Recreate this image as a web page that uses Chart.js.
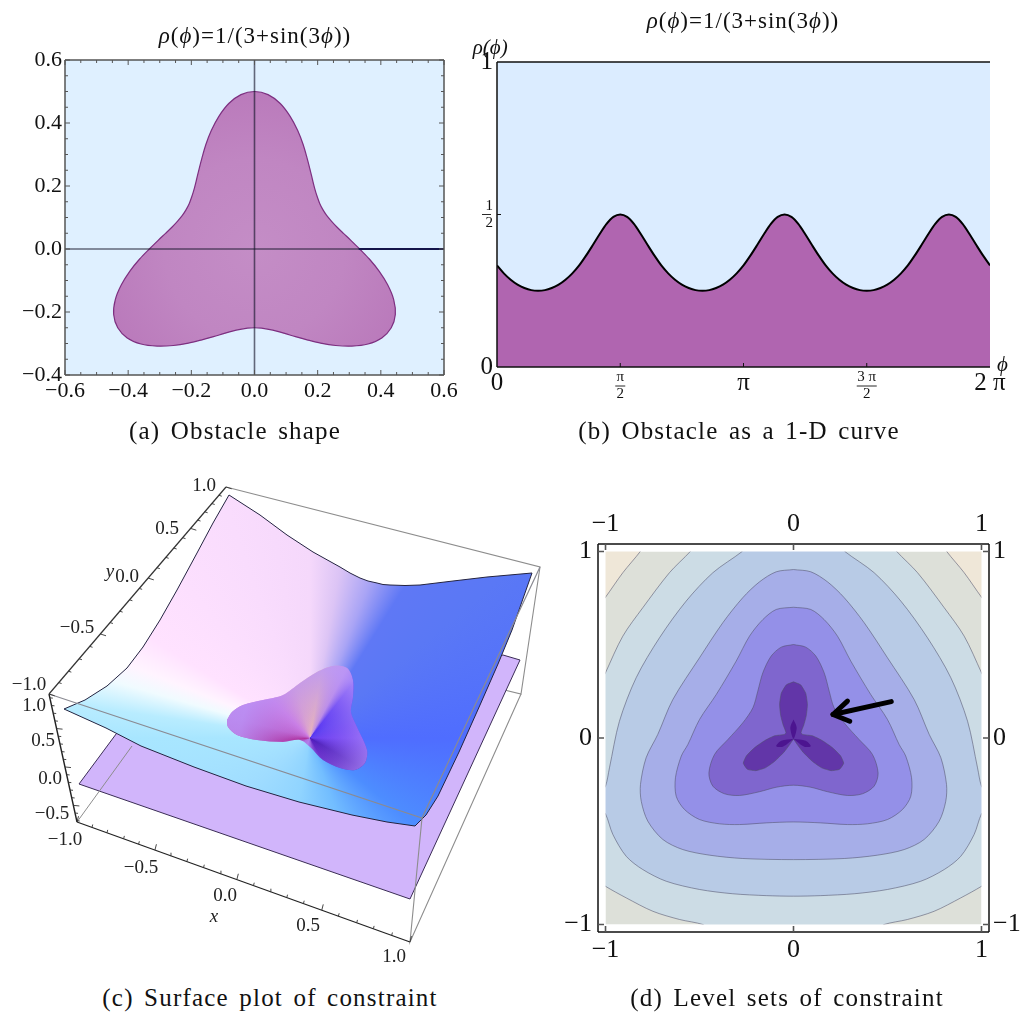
<!DOCTYPE html>
<html><head><meta charset="utf-8">
<script src="https://cdn.jsdelivr.net/npm/chart.js@4/dist/chart.umd.js"></script>
<style>
html,body{margin:0;padding:0;background:#fff;width:1021px;height:1014px;overflow:hidden}
canvas{position:absolute}
.t{position:absolute;white-space:nowrap;transform:translate(-50%,-50%);font-family:"Liberation Serif",serif;color:#111}
.title{font-size:23px;letter-spacing:1px}
.cap{font-size:25px;letter-spacing:1.2px;word-spacing:3px}
</style></head><body>
<canvas id="a" width="470" height="450" style="left:0px;top:0px"></canvas>
<canvas id="b" width="561" height="450" style="left:460px;top:0px"></canvas>
<canvas id="c" width="550" height="510" style="left:0px;top:470px"></canvas>
<canvas id="d" width="481" height="480" style="left:540px;top:500px"></canvas>
<div class="t title" style="left:255px;top:36px"><i>ρ</i>(<i>ϕ</i>)=1/(3+sin(3<i>ϕ</i>))</div>
<div class="t title" style="left:743px;top:21px"><i>ρ</i>(<i>ϕ</i>)=1/(3+sin(3<i>ϕ</i>))</div>
<div class="t cap" style="left:235px;top:431px">(a) Obstacle shape</div>
<div class="t cap" style="left:739px;top:431px">(b) Obstacle as a 1-D curve</div>
<div class="t cap" style="left:270px;top:998px">(c) Surface plot of constraint</div>
<div class="t cap" style="left:787px;top:998px">(d) Level sets of constraint</div>
<script>
// ---------- obstacle curve (panels a, b) ----------
const phiDeg=[0,5,10,15,20,25,30,35,40,45,50,55,60,65,70,75,80,85,90,95,100,105,110,115,120,125,130,135,140,145,150,155,160,165,170,175,180,185,190,195,200,205,210,215,220,225,230,235,240,245,250,255,260,265,270,275,280,285,290,295,300,305,310,315,320,325,330,335,340,345,350,355,360];
const rhoVals=[.333,.307,.286,.270,.259,.252,.25,.252,.259,.270,.286,.307,.333,.365,.4,.436,.469,.492,.5,.492,.469,.436,.4,.365,.333,.307,.286,.270,.259,.252,.25,.252,.259,.270,.286,.307,.333,.365,.4,.436,.469,.492,.5,.492,.469,.436,.4,.365,.333,.307,.286,.270,.259,.252,.25,.252,.259,.270,.286,.307,.333,.365,.4,.436,.469,.492,.5,.492,.469,.436,.4,.365,.333];
// panel a axes
const aXTicks=[-.6,-.4,-.2,0,.2,.4,.6];
const aYTicks=[-.4,-.2,0,.2,.4,.6];
const aXMinor=[-.55,-.5,-.45,-.35,-.3,-.25,-.15,-.1,-.05,.05,.1,.15,.25,.3,.35,.45,.5,.55];
const aYMinor=[-.35,-.3,-.25,-.15,-.1,-.05,.05,.1,.15,.25,.3,.35,.45,.5,.55];
const aShadeRadii=[0,90,170];
const aShadeCols=['#c48dc6','#c086c2','#b978ba'];
// panel b axes
const bXTicks=[0,90,180,270,360];
const bXLabels=['0',['π','2'],'π',['3 π','2'],'2 π'];
const bYTicks=[0,.5,1];
const bYLabels=['0',['1','2'],'1'];
// panel d axes
const dTicks=[-1,0,1];
// panel d level sets: left half of each contour, mirrored about x=0; parts beyond +-1 lie under the white margin
const c2X=[0,-.53,-.549,-.660,-.802,-.908,-1,-1.03,-1.03,-1,-.890,-.748,-.606,-.482,-.44,0];
const c2Y=[1.03,1.03,1,.886,.698,.546,.350,.28,-.77,-.795,-.857,-.929,-.973,-1,-1.03,-1.03];
const c3X=[0,-.25,-.273,-.429,-.571,-.713,-.837,-.926,-.979,-1,-1.03,-1.03,-1,-.961,-.890,-.802,-.677,-.5,-.323,-.145,0];
const c3Y=[1.03,1.03,1,.886,.734,.537,.323,.090,-.160,-.258,-.30,-.38,-.407,-.517,-.634,-.705,-.768,-.812,-.835,-.845,-.848];
const c4X=[0,-.092,-.181,-.270,-.376,-.5,-.642,-.722,-.784,-.814,-.810,-.775,-.695,-.589,-.447,-.270,0];
const c4Y=[.903,.891,.837,.752,.618,.430,.206,.019,-.106,-.249,-.339,-.446,-.544,-.598,-.628,-.646,-.652];
const c5X=[0,-.092,-.163,-.234,-.305,-.411,-.5,-.562,-.597,-.628,-.624,-.580,-.5,-.394,-.287,-.145,0];
const c5Y=[.701,.689,.635,.546,.412,.233,.099,-.035,-.097,-.213,-.312,-.383,-.437,-.460,-.464,-.455,-.450];
const c6X=[0,-.065,-.119,-.163,-.190,-.216,-.270,-.349,-.420,-.450,-.429,-.367,-.287,-.181,-.092,0];
const c6Y=[.501,.487,.439,.350,.251,.162,.081,-.008,-.088,-.187,-.258,-.299,-.308,-.288,-.264,-.253];
const c7X=[0,-.038,-.065,-.074,-.068,-.055,-.040,-.048,-.10,-.15,-.205,-.25,-.267,-.245,-.2,-.15,-.10,-.05,-.02,0];
const c7Y=[.301,.285,.24,.18,.12,.07,.03,.019,.012,-.012,-.05,-.095,-.135,-.168,-.175,-.16,-.125,-.075,-.035,-.008];
const c8TopX=[0,-.017,0,.017,0];
const c8TopY=[.099,.055,-.004,.055,.099];
const c8LeftX=[0,-.065,-.092,-.057,-.021,0];
const c8LeftY=[-.004,-.015,-.044,-.047,-.022,-.004];
const cornerX=[-1.03,-.80,-.815,-.908,-1,-1.03,-1.03];
const cornerY=[1.03,1.03,1,.886,.755,.72,1.03];
const dColors=['#dde0d9','#efe7d8','#ccdce5','#b8cbe6','#a6aee8','#9490e8','#7f66ce','#6236a8','#4c1590'];
const arrowX=[.52,.210], arrowY=[.195,.126];
const arrowHeadX=[.287,.210,.299], arrowHeadY=[.198,.126,.090];
// panel c: outlines, in view coordinates
const surfX=[229,260,287,313,340,350,360,368,377,383,390,405,420,453,487,532,512,498,480,459,438,426,415,387,352,299,246,194,141,106,64,85,107,127,143,160,177,197,213,229];
const surfY=[495,515,535,552,567,573,578,581,583,584.5,585,585.5,585,581,577,573,630,664,705,752,796,815,826,822,815,802,786,767,746,728,709,700,686,668,647,620,590,553,523,495];
const planeX=[79,125,503,520,410,79];
const planeY=[784,722,655,660,899,784];
const lobeX=[227,232,243,263,283,300,317,333,347,353,353,351,357,367,365,355,340,323,310,300,283,257,237,228,227];
const lobeY=[720,712,705,700,695,683,672,666,668,680,697,712,727,750,763,770,768,760,747,740,742,740,735,727,720];
const lobeCenter=[310,738];
const surfDeg=[0,40,70,100,140,165,180,188,196,202,212,250,270,280,291,302,320,360];
const surfCol=['#4f6dff','#4d8dff','#72bdff','#90d4ff','#9fdcff','#a5e2ff','#a8e6ff','#b8ecff','#f0fbff','#fff4ff','#ffe2ff','#f9dcfd','#f5d8fb','#dcc4f5','#a9a4f5','#5f78f5','#5a78f5','#4f6dff'];
const lobeDeg=[0,30,60,85,110,150,175,195,225,255,280,298,308,330,360];
const lobeCol=['#6a3df0','#4a1cb8','#5a20c0','#9a60e0','#b080e8','#b070e0','#b02e98','#c060c8','#cf7ee0','#e0a8c8','#eab8b8','#c090e0','#5030f0','#5a3cf0','#6a3df0'];
const lobeRadii=[0,35,70];
const lobeVeil=['rgba(170,120,255,0)','rgba(180,140,250,.35)','rgba(185,150,250,.8)'];
const boxBackX=[226,540,521,484], boxBackY=[487,567,694,685];
const boxLowX=[132,77], boxLowY=[746,822];
const boxFrontX=[49,422,540], boxFrontY=[694,818,567];
const boxVertX=[422,410,521], boxVertY=[818,942,694];
const axisYX=[49,226], axisYY=[694,487];
const axisZX=[49,77], axisZY=[694,822];
const axisXX=[77,410], axisXY=[822,942];
const yTickFrac=[0,.055,.11,.17,.23,.29,.345,.40,.455,.51,.56,.61,.66,.705,.755,.80,.84,.88,.92,.96,1];
const xTickFrac=[0,.045,.09,.14,.185,.234,.28,.33,.38,.43,.48,.53,.58,.63,.68,.735,.785,.84,.89,.945,1];
const zTickFrac=[.03,.09,.15,.21,.27,.33,.39,.45,.51,.57,.63,.69,.75,.81,.87,.93,.99];
const cTickText=['1.0','0.5','0.0','−0.5','−1.0','1.0','0.5','0.0','−0.5','−1.0','−0.5','0.0','0.5','1.0'];
const cTickX=[204,167,127,77,29,34,43,50,52,65,141,225,308,394];
const cTickY=[486,529,577,628,685,706,741,779,814,840,868,896,926,957];
const cAxisText=['x','y'];
const cAxisX=[214,110];
const cAxisY=[917,572];

// ---------- helpers ----------
const SERIF='"Liberation Serif",serif';
const zip=(xs,ys)=>xs.map((x,i)=>({x,y:ys[i]}));
const mirror=(xs,ys)=>{const p=zip(xs,ys);const m=p.filter(q=>q.x!==0).reverse().map(q=>({x:-q.x,y:q.y}));const o=p.concat(m);o.push(p[0]);return o;};
const poly=(data,fillc,o={})=>Object.assign({data,backgroundColor:fillc,fill:'shape',borderColor:'transparent',borderWidth:0,pointRadius:0,tension:0,clip:false},o);
const line=(data,col,w,o={})=>Object.assign({data,borderColor:col,borderWidth:w,fill:false,pointRadius:0,tension:0,spanGaps:false},o);
const ordered=ds=>ds.map((d,i)=>Object.assign(d,{order:-i}));
const okPx=(ch,cx,cy)=>{if(!ch.scales||!ch.scales.x||!ch.scales.y)return null;
  const px=ch.scales.x.getPixelForValue(cx),py=ch.scales.y.getPixelForValue(cy);
  return Number.isFinite(px)&&Number.isFinite(py)?[px,py]:null;};
function conic(cx,cy,degs,cols){return ctx=>{const p=okPx(ctx.chart,cx,cy);if(!p)return '#88f';
  const g=ctx.chart.ctx.createConicGradient(0,p[0],p[1]);
  degs.forEach((d,i)=>g.addColorStop(d/360,cols[i]));return g;};}
function radial(cx,cy,rs,cols){return ctx=>{const p=okPx(ctx.chart,cx,cy);if(!p)return 'transparent';
  const g=ctx.chart.ctx.createRadialGradient(p[0],p[1],0,p[0],p[1],rs[rs.length-1]);
  rs.forEach((r,i)=>g.addColorStop(r/rs[rs.length-1],cols[i]));return g;};}
function frame(o){return{id:'frame',afterDatasetsDraw(ch){
  const c=ch.ctx,A=ch.chartArea;c.save();c.strokeStyle=o.color;c.lineWidth=o.width;c.beginPath();
  const sides=o.sides||['top','left','bottom','right'];
  if(sides.includes('top')){c.moveTo(A.left,A.top);c.lineTo(A.right,A.top);}
  if(sides.includes('bottom')){c.moveTo(A.left,A.bottom);c.lineTo(A.right,A.bottom);}
  if(sides.includes('left')){c.moveTo(A.left,A.top);c.lineTo(A.left,A.bottom);}
  if(sides.includes('right')){c.moveTo(A.right,A.top);c.lineTo(A.right,A.bottom);}
  c.stroke();c.lineWidth=o.tickWidth||1;c.strokeStyle=o.tickColor||o.color;c.beginPath();
  const X=ch.scales.x,Y=ch.scales.y;
  const mx=(vals,l)=>vals.forEach(v=>{const p=X.getPixelForValue(v);
    c.moveTo(p,A.bottom);c.lineTo(p,A.bottom-l);if(o.both){c.moveTo(p,A.top);c.lineTo(p,A.top+l);}});
  const my=(vals,l)=>vals.forEach(v=>{const p=Y.getPixelForValue(v);
    c.moveTo(A.left,p);c.lineTo(A.left+l,p);if(o.both){c.moveTo(A.right,p);c.lineTo(A.right-l,p);}});
  mx(o.xMajor,o.major);my(o.yMajor,o.major);mx(o.xMinor||[],o.minor);my(o.yMinor||[],o.minor);
  c.stroke();c.restore();}};}
function texts(items){return{id:'texts',afterDraw(ch){
  const c=ch.ctx;c.save();c.textAlign='center';c.textBaseline='middle';
  items.forEach(t=>{c.font=t.font;c.fillStyle=t.color||'#222';
    c.fillText(t.s,ch.scales.x.getPixelForValue(t.x),ch.scales.y.getPixelForValue(t.y));});c.restore();}};}
const base=(scales,padding)=>({responsive:false,animation:false,layout:{padding},
  plugins:{legend:{display:false},tooltip:{enabled:false},title:{display:false}},scales});
const axis=(o)=>Object.assign({type:'linear',grid:{display:false,drawTicks:false},border:{display:false}},o);

// ---------- panel a ----------
const shape=rhoVals.map((r,i)=>({x:r*Math.cos(phiDeg[i]*Math.PI/180),y:r*Math.sin(phiDeg[i]*Math.PI/180)}));
const fmt=v=>Number(v).toFixed(1).replace('-','−');
new Chart(document.getElementById('a'),{type:'line',data:{datasets:ordered([
  poly(zip([-.6,.6,.6,-.6,-.6],[.6,.6,-.4,-.4,.6]),'#dff0ff'),
  poly(shape,radial(0,0,aShadeRadii,aShadeCols),{borderColor:'#7d2f80',borderWidth:1.2,tension:.3}),
  line(zip([-.6,.6],[0,0]),'rgba(20,20,40,.62)',1.6),
  line(zip([0,0],[-.4,.6]),'rgba(20,20,40,.62)',1.6),
  line(zip([.33,.6],[0,0]),'#14144a',2),
])},options:base({
  x:axis({min:-.6,max:.6,afterBuildTicks:s=>{s.ticks=aXTicks.map(value=>({value}))},afterFit:s=>{s.height=75},
    ticks:{callback:fmt,autoSkip:false,maxRotation:0,padding:3,color:'#111',font:{family:SERIF,size:22}}}),
  y:axis({min:-.4,max:.6,afterBuildTicks:s=>{s.ticks=aYTicks.map(value=>({value}))},afterFit:s=>{s.width=65},
    ticks:{callback:fmt,autoSkip:false,padding:3,color:'#111',font:{family:SERIF,size:22}}})
},{top:60,right:26}),plugins:[frame({color:'#555',width:1.5,both:true,xMajor:aXTicks,yMajor:aYTicks,xMinor:aXMinor,yMinor:aYMinor,major:5,minor:3})]});

// ---------- panel b ----------
function fractionBars(){return{id:'fractionBars',afterDraw(ch){
  const c=ch.ctx;c.save();c.strokeStyle='#111';c.lineWidth=.9;c.beginPath();
  const X=ch.scales.x,Y=ch.scales.y,A=ch.chartArea;
  bXLabels.forEach((l,i)=>{if(Array.isArray(l)){const p=X.getPixelForValue(bXTicks[i]),w=l[0].length>1?10:5;
    c.moveTo(p-w,A.bottom+19);c.lineTo(p+w,A.bottom+19);}});
  bYLabels.forEach((l,i)=>{if(Array.isArray(l)){const p=Y.getPixelForValue(bYTicks[i]);
    c.moveTo(A.left-15,p);c.lineTo(A.left-6,p);}});
  c.stroke();c.restore();}};}
const fracFont={family:SERIF,size:15,lineHeight:1.15},bigFont={family:SERIF,size:25,lineHeight:1.2};
const bFont=ctx=>Array.isArray(bXLabels[ctx.index])?fracFont:bigFont;
const bYFont=ctx=>Array.isArray(bYLabels[ctx.index])?fracFont:bigFont;
new Chart(document.getElementById('b'),{type:'line',data:{datasets:ordered([
  poly(zip([0,360,360,0,0],[1,1,0,0,1]),'#dbecff'),
  line(zip(phiDeg,rhoVals),'#000',2,{fill:'origin',backgroundColor:'#b065b0',tension:.3}),
])},options:base({
  x:axis({min:0,max:360,afterBuildTicks:s=>{s.ticks=bXTicks.map(value=>({value}))},afterFit:s=>{s.height=83},
    ticks:{callback:(v,i)=>bXLabels[i],autoSkip:false,maxRotation:0,padding:1,color:'#111',font:bFont}}),
  y:axis({min:0,max:1,afterBuildTicks:s=>{s.ticks=bYTicks.map(value=>({value}))},afterFit:s=>{s.width=37},
    ticks:{callback:(v,i)=>bYLabels[i],autoSkip:false,padding:4,color:'#111',font:bYFont}})
},{top:62,right:31}),plugins:[frame({color:'#111',width:1.5,sides:['top','left','bottom'],xMajor:[90,180,270],yMajor:[.5],major:4}),fractionBars(),
  texts([{s:'ρ(ϕ)',x:-5,y:1.045,font:'italic 21px '+SERIF,color:'#111'},{s:'ϕ',x:369,y:.005,font:'italic 21px '+SERIF,color:'#111'}])]});

// ---------- panel c ----------
function axisTicks(xs,ys,fr,dx,dy,every,offset){const out=[];fr.forEach((f,i)=>{
  const px=xs[0]+(xs[1]-xs[0])*f,py=ys[0]+(ys[1]-ys[0])*f,l=((i+offset)%every===0)?6:3;
  out.push({x:px,y:py},{x:px+dx*l,y:py+dy*l},{x:null,y:null});});return out;}
const cTicks=cTickText.map((s,i)=>({s,x:cTickX[i],y:cTickY[i],font:'19px '+SERIF}));
const cAxes=cAxisText.map((s,i)=>({s,x:cAxisX[i],y:cAxisY[i],font:'italic 19px '+SERIF}));
const GR='#8d8d8d';
new Chart(document.getElementById('c'),{type:'line',data:{datasets:ordered([
  line(zip(boxBackX,boxBackY),GR,1.1),
  poly(zip(planeX,planeY),'#d1b5fb',{borderColor:'#3a2c55',borderWidth:1}),
  line(zip(boxLowX,boxLowY),GR,1),
  poly(zip(surfX,surfY),conic(lobeCenter[0],lobeCenter[1],surfDeg,surfCol),{borderColor:'#232340',borderWidth:1}),
  poly(zip(lobeX,lobeY),conic(lobeCenter[0],lobeCenter[1],lobeDeg,lobeCol),{tension:.3}),
  poly(zip(lobeX,lobeY),radial(lobeCenter[0],lobeCenter[1],lobeRadii,lobeVeil),{tension:.3}),
  line(zip(boxFrontX,boxFrontY),'#8a8a92',1.2),
  line(zip(boxVertX,boxVertY),GR,1.1),
  line(zip(axisYX,axisYY),'#333',1.2),
  line(zip(axisZX,axisZY),'#222',1.4),
  line(zip(axisXX,axisXY),'#222',1.2),
  line(axisTicks(axisYX,axisYY,yTickFrac,.95,.3,5,0),'#333',.9),
  line(axisTicks(axisZX,axisZY,zTickFrac,1,.1,5,1),'#333',.9),
  line(axisTicks(axisXX,axisXY,xTickFrac,.25,-.97,5,0),'#333',.9),
])},options:base({
  x:axis({display:false,min:0,max:550}),
  y:axis({display:false,min:470,max:980,reverse:true})
},0),plugins:[texts(cTicks.concat(cAxes))]});

// ---------- panel d ----------
const edgePoly=zip([-1,1,1,-1,-1],[1,1,-1,-1,1]);
const dOpts={tension:.3,borderColor:'rgba(80,80,105,.55)',borderWidth:1};
const dStr=v=>String(v).replace('-','−');
const dTick=(pad)=>({callback:dStr,autoSkip:false,maxRotation:0,padding:pad,color:'#111',font:{family:SERIF,size:26}});
const setD=s=>{s.ticks=dTicks.map(value=>({value}))};
const strip=(xs,ys)=>poly(zip(xs,ys),'#fff');
new Chart(document.getElementById('d'),{type:'line',data:{datasets:ordered([
  poly(edgePoly,dColors[0]),
  poly(zip(cornerX,cornerY),dColors[1],dOpts),
  poly(zip(cornerX.map(v=>-v),cornerY),dColors[1],dOpts),
  poly(mirror(c2X,c2Y),dColors[2],dOpts),
  poly(mirror(c3X,c3Y),dColors[3],dOpts),
  poly(mirror(c4X,c4Y),dColors[4],dOpts),
  poly(mirror(c5X,c5Y),dColors[5],dOpts),
  poly(mirror(c6X,c6Y),dColors[6],dOpts),
  poly(mirror(c7X,c7Y),dColors[7],Object.assign({},dOpts,{tension:.15})),
  poly(zip(c8TopX,c8TopY),dColors[8],{tension:.3}),
  poly(zip(c8LeftX,c8LeftY),dColors[8],{tension:.3}),
  poly(zip(c8LeftX.map(v=>-v),c8LeftY),dColors[8],{tension:.3}),
  strip([-1.04,1.04,1.04,-1.04,-1.04],[1.04,1.04,1,1,1.04]),
  strip([-1.04,1.04,1.04,-1.04,-1.04],[-1,-1,-1.04,-1.04,-1]),
  strip([-1.04,-1,-1,-1.04,-1.04],[1.04,1.04,-1.04,-1.04,1.04]),
  strip([1,1.04,1.04,1,1],[1.04,1.04,-1.04,-1.04,1.04]),
  line(zip(arrowX,arrowY),'#000',5,{borderCapStyle:'round'}),
  line(zip(arrowHeadX,arrowHeadY),'#000',5,{borderCapStyle:'round',borderJoinStyle:'round'}),
])},options:base({
  x:axis({min:-1.04,max:1.04,position:'bottom',afterBuildTicks:setD,afterFit:s=>{s.height=48},ticks:dTick(3)}),
  x2:axis({axis:'x',min:-1.04,max:1.04,position:'top',afterBuildTicks:setD,afterFit:s=>{s.height=44},ticks:dTick(4)}),
  y:axis({min:-1.04,max:1.04,position:'left',afterBuildTicks:setD,afterFit:s=>{s.width=58},ticks:dTick(6)}),
  y2:axis({axis:'y',min:-1.04,max:1.04,position:'right',afterBuildTicks:setD,afterFit:s=>{s.width=32},ticks:dTick(4)})
},0),plugins:[frame({color:'#111',width:1.5,tickColor:'#555',both:true,xMajor:dTicks,yMajor:dTicks,major:6,tickWidth:1.6})]});
</script>
</body></html>
